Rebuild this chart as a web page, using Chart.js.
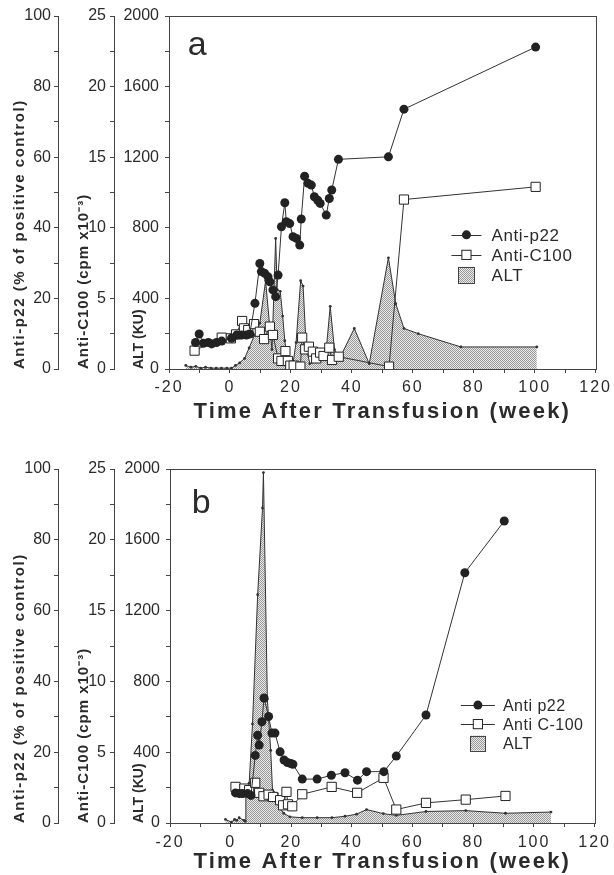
<!DOCTYPE html>
<html><head><meta charset="utf-8">
<script src="https://cdn.jsdelivr.net/npm/chart.js@4.4.1/dist/chart.umd.min.js"></script>
<style>html,body{margin:0;padding:0;background:#fff;} canvas{display:block;}</style>
</head><body>
<canvas id="ca" width="614" height="430"></canvas>
<canvas id="cb" width="614" height="445"></canvas>
<script>
// ---------- Panel a data ----------
const p22WeeksA = [-11.3,-10.1,-8.7,-7.1,-6.0,-4.4,-2.7,0.5,2.2,3.8,5.4,6.5,8.2,9.8,10.3,11.4,12.5,13.1,14.1,15.0,15.8,16.9,18.0,18.5,19.6,20.7,21.8,22.9,23.4,24.5,25.6,26.7,27.7,28.8,29.6,31.6,32.6,33.4,35.6,52.0,57.1,100.3];
const p22ValuesA = [7.5,9.9,7.3,7.5,7.1,7.5,7.9,8.7,9.6,9.6,9.6,9.9,18.6,29.9,27.6,27.1,26.1,24.7,22.4,20.5,26.6,40.3,47.1,41.7,41.2,37.5,37.0,35.1,42.5,54.6,52.6,52.1,48.8,47.8,46.9,43.6,48.3,50.7,59.4,60.1,73.6,91.2];
const c100WeeksA = [-11.6,-2.7,0.3,2.0,4.0,4.6,6.0,7.9,9.8,11.2,13.1,14.1,15.8,16.9,18.2,19.0,19.8,20.9,23.1,23.7,24.7,25.9,27.2,28.3,29.6,30.7,32.6,33.5,35.7,52.2,57.1,100.3];
const c100ValuesA = [1.30,2.22,2.17,2.45,3.40,2.88,2.76,3.18,2.64,2.12,3.00,2.41,0.75,0.57,1.27,0.57,0.24,0.24,0.17,2.22,1.39,1.58,1.23,0.75,1.16,0.92,1.51,0.64,0.87,0.17,12.0,12.9];
const altWeeksA = [-14.5,-12.8,-11.2,-9.6,-8.0,-6.2,-4.5,-2.8,-1.0,0.5,1.8,3.2,4.8,6.3,8.0,9.8,11.7,13.0,13.8,15.0,15.5,16.5,17.3,18.0,19.0,20.5,21.7,23.2,24.0,25.0,26.2,28.3,30.0,31.6,32.9,34.3,36.0,40.8,45.7,52.0,54.4,57.1,61.8,75.8,100.7];
const altValuesA = [20,10,15,5,10,5,5,5,5,5,20,35,60,120,190,260,500,250,110,740,450,440,300,160,30,10,150,500,470,130,30,40,60,110,355,110,60,230,30,630,370,230,200,125,125];

// ---------- Panel b data ----------
const p22WeeksB = [1.6,2.9,4.0,5.6,6.7,8.1,8.9,9.4,10.3,11.0,12.5,13.6,14.6,16.3,17.6,18.7,19.8,20.5,23.6,28.5,33.2,37.7,41.8,44.8,50.5,54.6,64.4,77.2,90.2];
const p22ValuesB = [8.5,8.3,8.3,8.3,7.8,19.1,24.8,22.0,28.6,35.3,30.1,25.4,25.4,20.1,17.8,17.1,16.8,16.6,12.4,12.4,13.5,14.2,12.1,14.5,14.5,18.9,30.5,70.7,85.3];
const c100WeeksB = [1.6,4.5,6.1,8.1,9.4,10.8,12.5,14.0,16.3,17.3,18.4,18.9,20.3,23.6,33.3,41.7,50.4,54.6,64.4,77.5,90.6];
const c100ValuesB = [2.55,2.43,2.32,2.84,2.13,1.89,2.0,1.84,1.61,1.25,2.2,1.32,1.18,2.03,2.55,2.13,3.19,0.95,1.42,1.65,1.91];
const altWeeksB = [-1.7,0.2,1.3,2.0,2.8,4.4,4.8,5.0,6.1,7.2,8.9,10.5,10.8,12.1,13.2,13.8,15.4,16.0,17.5,19.5,23.6,28.5,33.4,37.7,41.5,44.8,50.3,54.6,64.4,77.5,90.6,105.6];
const altValuesB = [20,5,20,15,30,15,10,200,225,560,1290,1780,1980,700,410,185,165,90,55,35,30,30,30,38,50,76,53,43,65,70,55,62];

// ---------- Labels / ticks ----------
const seriesNamesA = ['Anti-p22','Anti-C100','ALT'];
const seriesNamesB = ['Anti p22','Anti C-100','ALT'];
const xTickLabels = [-20,0,20,40,60,80,100,120];
const altTickLabels = [0,400,800,1200,1600,2000];
const c100TickLabels = [0,5,10,15,20,25];
const p22TickLabels = [0,20,40,60,80,100];
const xTitle = 'Time After Transfusion (week)';
const altTitle = 'ALT (KU)';
const c100Title = 'Anti-C100 (cpm x10\u207B\u00B3)';
const p22Title = 'Anti-p22 (% of positive control)';

const FAMILY = '"Liberation Sans", Arial, Helvetica, sans-serif';
const TXT = '#2b2b2b';
const AX = '#444';

function makePattern() {
  const c = document.createElement('canvas'); c.width = 2; c.height = 2;
  const g = c.getContext('2d');
  g.fillStyle = '#e8e8e8'; g.fillRect(0,0,2,2);
  g.fillStyle = '#9a9a9a'; g.fillRect(0,0,1,1); g.fillRect(1,1,1,1);
  return g.createPattern(c, 'repeat');
}
const pattern = makePattern();

function labelCb(list) {
  return (v) => { const hit = list.find(l => Math.abs(l - v) < 1e-6); return hit === undefined ? '' : String(hit); };
}
function spaced(scale, labelSp, titleSp) {
  if (scale.$sp) return; scale.$sp = true;
  const dl = scale.drawLabels, dt = scale.drawTitle;
  scale.drawLabels = function(a){ const c = this.ctx; c.save(); c.letterSpacing = labelSp; dl.call(this, a); c.restore(); };
  scale.drawTitle = function(a){ const c = this.ctx; c.save(); c.letterSpacing = titleSp; dt.call(this, a); c.restore(); };
}

const framePlugin = {
  id: 'frame',
  beforeDatasetsDraw(chart) {
    const {ctx, chartArea: a} = chart;
    ctx.save(); ctx.strokeStyle = AX; ctx.lineWidth = 1;
    ctx.strokeRect(Math.round(a.left) + 0.5, Math.round(a.top) + 0.5, Math.round(a.right - a.left), Math.round(a.bottom - a.top));
    ctx.restore();
  }
};
const legendPlugin = {
  id: 'inLegend',
  afterDatasetsDraw(chart, args, o) {
    const {ctx, chartArea: a} = chart;
    const x0 = a.left + a.width * o.fx, y0 = a.top + a.height * o.fy;
    ctx.save();
    ctx.font = o.fontSize + 'px ' + FAMILY; ctx.textBaseline = 'middle'; ctx.letterSpacing = o.sp;
    chart.data.datasets.forEach((ds, i) => {
      const y = y0 + i * o.rowH, xm = x0 + o.lineW / 2;
      if (ds.fill) {
        const s = o.box;
        ctx.fillStyle = ds.backgroundColor; ctx.fillRect(xm - s/2, y - s/2, s, s);
        ctx.strokeStyle = AX; ctx.lineWidth = 1; ctx.strokeRect(Math.round(xm - s/2) + 0.5, Math.round(y - s/2) + 0.5, s, s);
      } else {
        ctx.strokeStyle = ds.borderColor; ctx.lineWidth = 1;
        ctx.beginPath(); ctx.moveTo(x0, Math.round(y) + 0.5); ctx.lineTo(x0 + o.lineW, Math.round(y) + 0.5); ctx.stroke();
        ctx.fillStyle = ds.pointBackgroundColor; ctx.strokeStyle = ds.pointBorderColor;
        if (ds.pointStyle === 'rect') {
          const h = ds.pointRadius * Math.SQRT1_2;
          ctx.fillRect(xm - h, y - h, 2*h, 2*h); ctx.strokeRect(xm - h, y - h, 2*h, 2*h);
        } else {
          ctx.beginPath(); ctx.arc(xm, y, ds.pointRadius, 0, Math.PI*2); ctx.fill();
        }
      }
      ctx.fillStyle = TXT; ctx.fillText(ds.label, x0 + o.lineW + o.gap, y + 1);
    });
    ctx.restore();
  }
};
const panelLabelPlugin = {
  id: 'panelLabel',
  afterDatasetsDraw(chart, args, o) {
    const {ctx, chartArea: a} = chart;
    ctx.save(); ctx.font = o.size + 'px ' + FAMILY; ctx.fillStyle = TXT; ctx.textBaseline = 'alphabetic';
    ctx.fillText(o.text, a.left + a.width * o.fx, a.top + a.height * o.fy);
    ctx.restore();
  }
};

function yAxis(min, max, step, labels, title, weight, width, titlePad, tickPad, titleSize, titleSp) {
  return {
    type: 'linear', position: 'left', min, max, weight,
    ticks: {stepSize: step, autoSkip: false, callback: labelCb(labels), color: TXT, padding: tickPad,
            font: {family: FAMILY, size: 16}},
    grid: {drawOnChartArea: false, drawTicks: true, tickLength: 4, color: AX},
    border: {color: AX, width: 1},
    title: {display: true, text: title, align: 'start', color: TXT, padding: {top: titlePad, bottom: 0},
            font: {family: FAMILY, size: titleSize, weight: 'bold'}},
    afterFit: (s) => { s.width = width; spaced(s, '0px', titleSp); }
  };
}

function buildChart(id, p) {
  const pts = (xs, ys) => xs.map((x, i) => ({x, y: ys[i]}));
  return new Chart(document.getElementById(id), {
    type: 'line',
    data: {datasets: [
      {label: p.names[0], data: pts(p.p22W, p.p22V), yAxisID: 'yP', borderColor: '#333', borderWidth: 1,
       pointRadius: 4.5, pointStyle: 'circle', pointBackgroundColor: '#222', pointBorderColor: '#222', pointBorderWidth: 0, fill: false, tension: 0},
      {label: p.names[1], data: pts(p.c100W, p.c100V), yAxisID: 'yC', borderColor: '#333', borderWidth: 1,
       pointRadius: 6.5, pointStyle: 'rect', pointBackgroundColor: '#fff', pointBorderColor: '#222', pointBorderWidth: 1, fill: false, tension: 0},
      {label: p.names[2], data: pts(p.altW, p.altV), yAxisID: 'yA', borderColor: '#333', borderWidth: 1,
       pointRadius: 1.4, pointStyle: 'circle', pointBackgroundColor: '#333', pointBorderWidth: 0,
       backgroundColor: pattern, fill: 'origin', tension: 0}
    ]},
    options: {
      responsive: false, animation: false, events: [],
      layout: {padding: {left: 0, top: p.padTop, right: 16, bottom: 0}},
      plugins: {
        legend: {display: false}, tooltip: {enabled: false},
        inLegend: p.legend, panelLabel: p.label
      },
      scales: {
        x: {type: 'linear', position: 'bottom', min: -20, max: 120,
            ticks: {stepSize: 10, autoSkip: false, maxRotation: 0, callback: labelCb(xTickLabels), color: TXT, padding: p.xTickPad,
                    font: {family: FAMILY, size: 16}},
            grid: {drawOnChartArea: false, drawTicks: true, tickLength: 4, color: AX},
            border: {color: AX, width: 1},
            title: {display: true, text: xTitle, color: TXT, padding: {top: 0, bottom: p.xTitlePad},
                    font: {family: FAMILY, size: 22, weight: 'bold'}},
            afterFit: (s) => { s.height = p.xH; spaced(s, '2px', '2.2px'); }},
        yA: yAxis(0, 2000, 200, altTickLabels, altTitle, 0, p.widths[2], 17, 6, 14, '0px'),
        yC: yAxis(0, 25, 2.5, c100TickLabels, c100Title, 1, p.widths[1], 17, 4, 15, '1px'),
        yP: yAxis(0, 100, 10, p22TickLabels, p22Title, 2, p.widths[0], 11, 3, 15, '1.5px')
      }
    },
    plugins: [framePlugin, legendPlugin, panelLabelPlugin]
  });
}

buildChart('ca', {
  names: seriesNamesA, p22W: p22WeeksA, p22V: p22ValuesA, c100W: c100WeeksA, c100V: c100ValuesA, altW: altWeeksA, altV: altValuesA,
  padTop: 16, xH: 61, xTickPad: 5, xTitlePad: 5, widths: [58, 56, 55],
  legend: {fx: 0.662, fy: 0.62, rowH: 20, lineW: 30, gap: 10, box: 16, fontSize: 17, sp: '0.6px'},
  label: {text: 'a', fx: 0.044, fy: 0.11, size: 34}
});
buildChart('cb', {
  names: seriesNamesB, p22W: p22WeeksB, p22V: p22ValuesB, c100W: c100WeeksB, c100V: c100ValuesB, altW: altWeeksB, altV: altValuesB,
  padTop: 39, xH: 52, xTickPad: 6, xTitlePad: 0, widths: [58, 56, 56],
  legend: {fx: 0.685, fy: 0.667, rowH: 19, lineW: 34, gap: 8, box: 15, fontSize: 16, sp: '0.5px'},
  label: {text: 'b', fx: 0.051, fy: 0.124, size: 34}
});
</script></body></html>
